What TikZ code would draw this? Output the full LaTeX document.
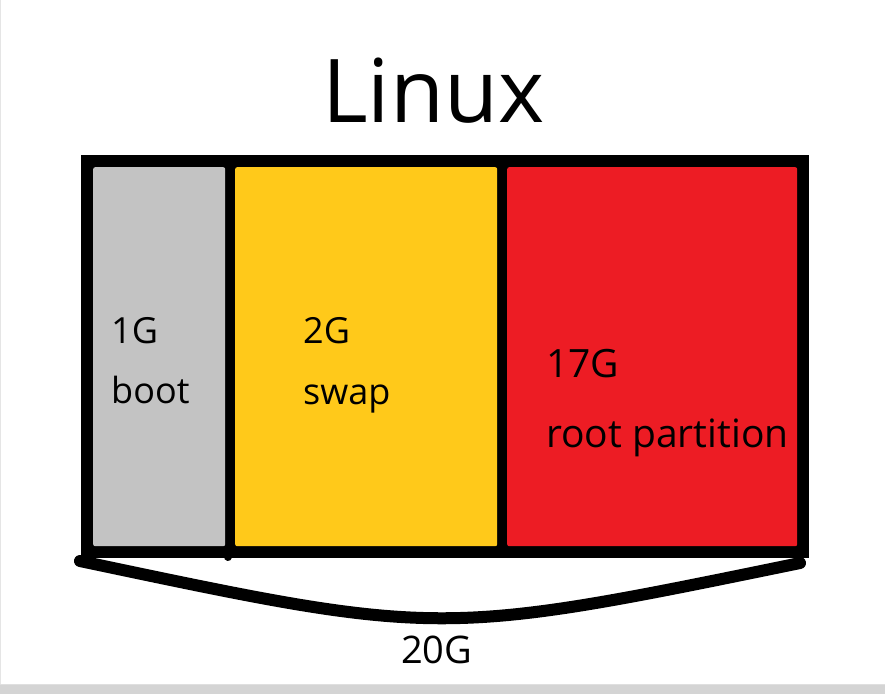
\documentclass[tikz,border=0pt]{standalone}
\usepackage{fontspec}
\setmainfont{Open Sans}
\usepackage{tikz}
\usetikzlibrary{calc,positioning}

\definecolor{bootgray}{HTML}{C3C3C3}
\definecolor{swapyellow}{HTML}{FFC91A}
\definecolor{rootred}{HTML}{ED1C24}
\definecolor{bargray}{HTML}{D4D4D4}

\tikzset{
	part/.style={anchor=north west, inner sep=0pt, minimum height=379pt, rounded corners=2pt},
	sizelabel/.style={anchor=base west, inner sep=0pt, font=\fontsize{36}{36}\selectfont},
}

\begin{document}
\begin{tikzpicture}[x=1pt, y=-1pt]
	\useasboundingbox (0,0) rectangle (885,694);

	% window edge and bar
	\fill[bargray] (0,684) rectangle (885,694);
	\draw[gray!25] (0,684.5) -- (885,684.5);
	\draw[gray!20] (0.5,0) -- (0.5,684);

	% title
	\node[anchor=base west, inner sep=0pt, font=\fontsize{88}{88}\selectfont] (title) at (322,122) {Linux};

	% the disk and its partitions
	\fill (81,155) rectangle (809,558);
	\node[part, fill=bootgray, minimum width=132pt] (boot) at (93,167) {};
	\node[part, fill=swapyellow, minimum width=262pt] (swap) at (235,167) {};
	\node[part, fill=rootred, minimum width=290pt] (root) at (507,167) {};
	\draw[line width=8pt, line cap=round] (229,549) -- (228,557);

	\node[sizelabel] (bootsize) at (111,343) {1G};
	\node[sizelabel] (bootname) at (111,403) {boot};
	\node[sizelabel] (swapsize) at (303,343) {2G};
	\node[sizelabel] (swapname) at (303,404) {swap};
	\node[sizelabel, font=\fontsize{39}{39}\selectfont] (rootsize) at (546,377) {17G};
	\node[sizelabel, font=\fontsize{39}{39}\selectfont] (rootname) at (546,447) {root partition};

	% brace under the disk
	\coordinate (braceL) at (80,561);
	\coordinate (braceR) at (800,563);
	\draw[line width=12pt, line cap=round] (braceL) .. controls (440,637) .. (braceR);
	\node[sizelabel, font=\fontsize{38}{38}\selectfont] (total) at (401,663) {20G};
\end{tikzpicture}
\end{document}
